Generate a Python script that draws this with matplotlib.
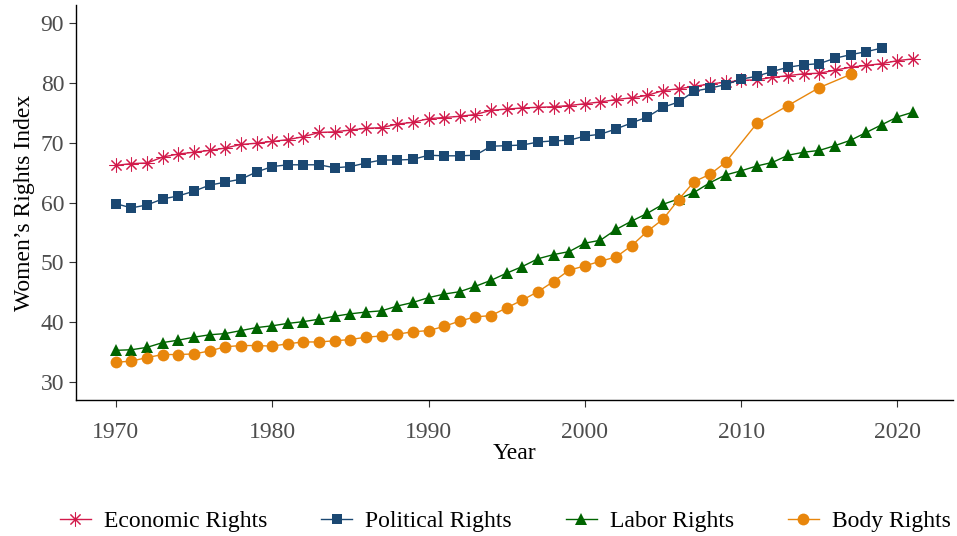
import matplotlib
matplotlib.use("Agg")
import matplotlib.pyplot as plt
import numpy as np

plt.rcParams['font.family'] = ['Liberation Serif', 'DejaVu Serif']

years_econ = list(range(1970, 2022))
economic = [66.2, 66.5, 66.6, 67.6, 68.1, 68.4, 68.7, 69.1, 69.7, 69.9,
            70.2, 70.5, 71.0, 71.7, 71.8, 72.1, 72.4, 72.5, 73.1, 73.4,
            74.0, 74.2, 74.4, 74.7, 75.4, 75.6, 75.8, 75.9, 76.0, 76.2,
            76.5, 76.8, 77.2, 77.5, 77.9, 78.7, 79.0, 79.4, 79.8, 80.1,
            80.4, 80.5, 80.9, 81.2, 81.5, 81.6, 82.1, 82.6, 82.9, 83.2,
            83.7, 84.0]

years_pol = list(range(1970, 2020))
political = [59.8, 59.1, 59.6, 60.6, 61.1, 61.9, 62.9, 63.4, 63.9, 65.1,
             66.0, 66.3, 66.3, 66.3, 65.8, 66.0, 66.6, 67.1, 67.1, 67.2,
             67.9, 67.8, 67.8, 67.9, 69.4, 69.5, 69.6, 70.1, 70.3, 70.4,
             71.1, 71.4, 72.3, 73.3, 74.3, 75.9, 76.8, 78.6, 79.1, 79.7,
             80.6, 81.1, 81.9, 82.6, 83.0, 83.2, 84.1, 84.7, 85.2, 85.8]

years_labor = list(range(1970, 2022))
labor = [35.3, 35.4, 35.8, 36.6, 37.0, 37.5, 37.9, 38.1, 38.6, 39.1,
         39.4, 39.8, 40.1, 40.5, 41.0, 41.4, 41.7, 41.9, 42.7, 43.3,
         44.1, 44.7, 45.1, 46.0, 47.0, 48.2, 49.3, 50.6, 51.3, 51.8,
         53.2, 53.7, 55.5, 56.9, 58.2, 59.7, 60.6, 61.7, 63.3, 64.6,
         65.3, 66.1, 66.7, 67.9, 68.4, 68.7, 69.5, 70.4, 71.7, 73.0,
         74.3, 75.1]

years_body = list(range(1970, 2010)) + [2011, 2013, 2015, 2017]
body = [33.3, 33.5, 34.1, 34.6, 34.6, 34.7, 35.2, 35.9, 36.1, 36.1,
        36.0, 36.4, 36.7, 36.7, 36.9, 37.1, 37.5, 37.7, 38.0, 38.4,
        38.6, 39.3, 40.2, 40.9, 41.1, 42.4, 43.7, 45.1, 46.8, 48.7,
        49.4, 50.2, 50.9, 52.8, 55.2, 57.2, 60.5, 63.5, 64.7, 66.7,
        73.2, 76.2, 79.2, 81.4]

labels = ["Economic Rights", "Political Rights", "Labor Rights", "Body Rights"]
colors = ["#D21A4B", "#1B4872", "#006400", "#E8860C"]

fig = plt.figure(figsize=(9.57, 5.36), dpi=100)
ax = fig.add_axes([0.0794, 0.2537, 0.9164, 0.737])

ax.plot(years_econ, economic, color=colors[0], lw=1.0, marker=(8, 2, 0),
        markersize=10, markeredgewidth=0.75, label=labels[0])
ax.plot(years_pol, political, color=colors[1], lw=1.0, marker='s',
        markersize=7.5, markeredgewidth=0, label=labels[1])
ax.plot(years_labor, labor, color=colors[2], lw=1.0, marker='^',
        markersize=8.5, markeredgewidth=0, label=labels[2])
ax.plot(years_body, body, color=colors[3], lw=1.0, marker='o',
        markersize=8.5, markeredgewidth=0, label=labels[3])

ax.set_xlim(1967.45, 2023.55)
ax.set_ylim(27, 93)
ax.set_xticks([1970, 1980, 1990, 2000, 2010, 2020])
ax.set_yticks([30, 40, 50, 60, 70, 80, 90])

for s in ['top', 'right']:
    ax.spines[s].set_visible(False)
for s in ['left', 'bottom']:
    ax.spines[s].set_linewidth(1.0)
    ax.spines[s].set_color('black')

ax.tick_params(axis='both', labelsize=17, labelcolor='#4D4D4D',
               color='#333333', length=5, width=0.8)
ax.tick_params(axis='x', pad=10.5)
ax.set_xlabel("Year", fontsize=17, labelpad=0)
ax.set_ylabel("Women’s Rights Index", fontsize=17, labelpad=4)

fig.legend(loc='lower center', bbox_to_anchor=(0.528, -0.033), ncol=4,
           frameon=False, fontsize=17, handlelength=1.3,
           handletextpad=0.55, columnspacing=2.3)

fig.savefig("out.png", dpi=100)
